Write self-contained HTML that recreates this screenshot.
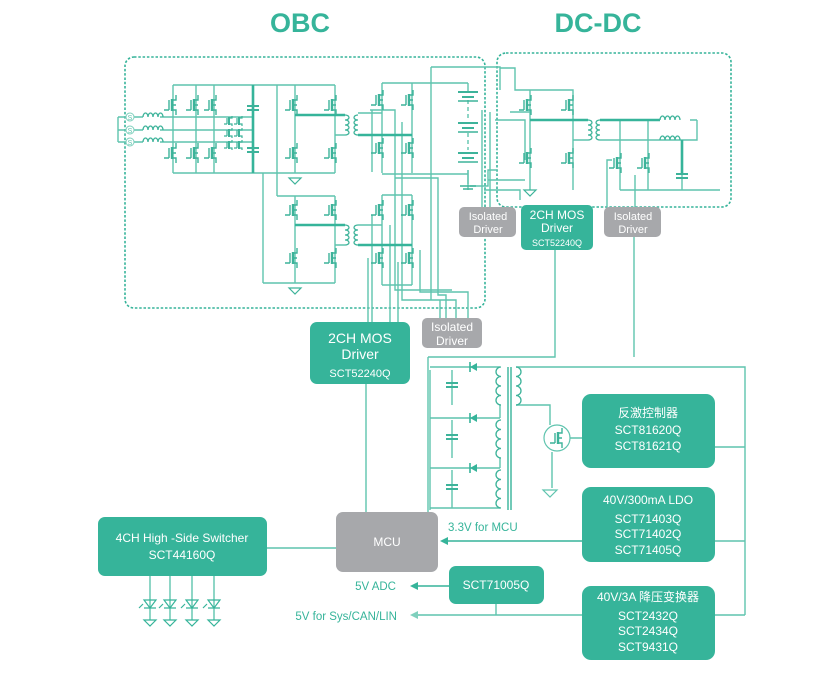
<!DOCTYPE html>
<html><head><meta charset="utf-8"><style>
html,body{margin:0;padding:0;background:#fff;}
svg{display:block;font-family:"Liberation Sans","Noto Sans CJK SC",sans-serif;}
</style></head><body>
<svg width="836" height="673" viewBox="0 0 836 673" xmlns="http://www.w3.org/2000/svg">
<defs>
<g id="m" fill="none" stroke="#3db39a" stroke-width="1.4">
<path d="M0,-10V-5H-4M0,10V5H-4M0,0H-4M-7,-5V5M-12,5H-7"/>
<path d="M-4,-6V6" stroke-width="2.4"/>
</g>
<g id="ms" fill="none" stroke="#3db39a" stroke-width="1.2">
<path d="M0,-5V-3H-3M0,5V3H-3M-5,-3V3M-8,3H-5"/>
<path d="M-3,-4V4" stroke-width="2"/>
</g>
<g id="gnd" fill="none" stroke="#3db39a" stroke-width="1.2"><path d="M-6,0H6L0,6Z"/></g>
<g id="cap" stroke="#3db39a" stroke-width="2"><path d="M-6,-2H6M-6,2H6"/></g>
<g id="bat" stroke="#3db39a" stroke-width="2"><path d="M-10,-3H10M-6,2H6" /><path d="M-10,6H10" stroke-width="1.6"/></g>
<g id="coilv" fill="none" stroke="#3db39a" stroke-width="1.3"><path d="M0,0a4,2.5 0 0 1 0,5a4,2.5 0 0 1 0,5a4,2.5 0 0 1 0,5a4,2.5 0 0 1 0,5"/></g>
<g id="coilv2" fill="none" stroke="#3db39a" stroke-width="1.3"><path d="M0,0a5,4.75 0 0 1 0,9.5a5,4.75 0 0 1 0,9.5a5,4.75 0 0 1 0,9.5a5,4.75 0 0 1 0,9.5"/></g>
<g id="coilh" fill="none" stroke="#3db39a" stroke-width="1.3"><path d="M0,0a2.5,4 0 0 1 5,0a2.5,4 0 0 1 5,0a2.5,4 0 0 1 5,0a2.5,4 0 0 1 5,0"/></g>
</defs>

<text x="300" y="32" text-anchor="middle" font-size="27" font-weight="bold" fill="#36b49a">OBC</text>
<text x="598" y="32" text-anchor="middle" font-size="27" font-weight="bold" fill="#36b49a">DC-DC</text>

<rect x="125" y="57" width="360" height="251" rx="9" fill="none" stroke="#36b49a" stroke-width="1.6" stroke-dasharray="2.5,1.8"/>
<rect x="497" y="53" width="234" height="154" rx="9" fill="none" stroke="#36b49a" stroke-width="1.6" stroke-dasharray="2.5,1.8"/>

<g fill="none" stroke="#5fc4ae" stroke-width="1.4">
<path d="M173,85H335M173,173H335M173,85V173M196,85V173M214,85V173"/>
<path d="M160,117H253M160,130H253M160,142H253"/>
<path d="M118,117V142M118,117H126M118,130H126M118,142H126M134,117H143M134,130H143M134,142H143"/>
<path d="M295,85V173M335,85V173M277,85V196M263,173V283"/>
<path d="M277,196H335M263,283H335M295,196V283M335,196V283"/>
<path d="M335,135H345M335,245H345"/>
<path d="M382,83H468M382,83V173M412,83V173M358,113H382M382,174H468M468,83V92M468,170V184"/>
<path d="M468,100V120M468,133V150" stroke-dasharray="4,3"/>
<path d="M382,195H412M382,195V285M412,195V285M358,225H382M382,285H412"/>
<path d="M431,67H500V90M431,67V300H440V318M372,110V172M370,110H395V178H438V295H446V318M402,122V300H456V318M395,145V290H452M420,250V292H468V318"/>
<path d="M372,215V330M368,258V322M390,225V322M398,262V322"/>
<path d="M470,186H488V170H497M482,110V207M490,112V207"/>
<path d="M468,190V170"/>
<path d="M500,68H515V90H573V190M530,90V190M573,140H588M510,112H530M495,120H525V160M488,180H525M484,190H520V200"/>
<path d="M600,140H697V120M697,120H690M697,140H690M620,120V190M648,120V190M620,190H720M682,140V190M607,207V160H612M635,207V175"/>
<path d="M555,250V357H428M634,237V357M428,357V512M366,384V512"/>
<path d="M516,367H745V615M516,405H550V425M552,452V488M570,438H582M715,447H745M715,541H745M715,615H745"/>
<path d="M430,370V510M430,367H500M430,418H500M430,468H500M452,370V405M452,420V458M452,470V508M500,405V418M500,458V468M500,508H430"/>
<path d="M267,548H336M496,604V615M582,615H418M150,576V620M170,576V620M192,576V620M214,576V620"/>
</g>
<g stroke="#36b49a" stroke-width="1.6">
<path d="M582,541H446M449,586H418"/>
<path d="M508,367V510M511,367V510" stroke-width="1.4"/>
</g>
<g fill="#36b49a"><path d="M440,541l8,-4v8z"/><path d="M410,586l8,-4v8z"/><path d="M410,615l8,-4v8z" fill="#7fd0bd"/>
<path d="M470,367l7,-4v8z"/><path d="M470,418l7,-4v8z"/><path d="M470,468l7,-4v8z"/></g>
<path d="M470,362v10M470,413v10M470,463v10" stroke="#36b49a" stroke-width="1.6"/>

<g stroke="#36b49a" stroke-width="2.6" fill="none">
<path d="M253,85V173M295,115H345M295,225H345M358,135H412M358,245H412M530,120H588M600,120H660M682,140V175"/>
</g>

<g>
<use href="#m" x="176" y="105"/><use href="#m" x="198" y="105"/><use href="#m" x="216" y="105"/>
<use href="#m" x="176" y="153"/><use href="#m" x="198" y="153"/><use href="#m" x="216" y="153"/>
<use href="#ms" x="232" y="121"/><use href="#ms" x="242" y="121"/><use href="#ms" x="232" y="133"/><use href="#ms" x="242" y="133"/><use href="#ms" x="232" y="145"/><use href="#ms" x="242" y="145"/>
<use href="#cap" x="253" y="108"/><use href="#cap" x="253" y="150"/>
<use href="#m" x="297" y="105"/><use href="#m" x="336" y="105"/><use href="#m" x="297" y="153"/><use href="#m" x="336" y="153"/>
<use href="#m" x="297" y="210"/><use href="#m" x="336" y="210"/><use href="#m" x="297" y="258"/><use href="#m" x="336" y="258"/>
<use href="#gnd" x="295" y="178"/><use href="#gnd" x="295" y="288"/>
<use href="#coilv" x="345" y="115"/><use href="#coilv" x="358" y="115" transform="translate(716,0) scale(-1,1)"/>
<use href="#coilv" x="345" y="225"/><use href="#coilv" x="358" y="225" transform="translate(716,0) scale(-1,1)"/>
<use href="#m" x="383" y="100"/><use href="#m" x="413" y="100"/><use href="#m" x="383" y="148"/><use href="#m" x="413" y="148"/>
<use href="#m" x="383" y="210"/><use href="#m" x="413" y="210"/><use href="#m" x="383" y="258"/><use href="#m" x="413" y="258"/>
<use href="#bat" x="468" y="95"/><use href="#bat" x="468" y="126"/><use href="#bat" x="468" y="156"/>
<g stroke="#3db39a" stroke-width="1.6"><path d="M460,186H476M463,189H473"/></g>
<use href="#coilh" x="143" y="117"/><use href="#coilh" x="143" y="130"/><use href="#coilh" x="143" y="142"/>
<g fill="#fff" stroke="#7fd0bd" stroke-width="1"><circle cx="130" cy="117" r="4"/><circle cx="130" cy="130" r="4"/><circle cx="130" cy="142" r="4"/></g>
<g font-size="7" fill="#5fc4ae" text-anchor="middle"><text x="130" y="120">S</text><text x="130" y="133">S</text><text x="130" y="145">S</text></g>
<use href="#m" x="531" y="105"/><use href="#m" x="573" y="105"/><use href="#m" x="531" y="158"/><use href="#m" x="573" y="158"/>
<use href="#gnd" x="530" y="190"/>
<use href="#coilv" x="588" y="120"/><use href="#coilv" x="600" y="120" transform="translate(1200,0) scale(-1,1)"/>
<use href="#coilh" x="660" y="120"/><use href="#coilh" x="660" y="140"/>
<use href="#m" x="621" y="163"/><use href="#m" x="649" y="163"/>
<use href="#cap" x="682" y="176"/>
<use href="#coilv2" x="501" y="367" transform="translate(1002,0) scale(-1,1)"/>
<use href="#coilv2" x="501" y="420" transform="translate(1002,0) scale(-1,1)"/>
<use href="#coilv2" x="501" y="470" transform="translate(1002,0) scale(-1,1)"/>
<use href="#coilv2" x="516" y="367"/>
<use href="#cap" x="452" y="385"/><use href="#cap" x="452" y="437"/><use href="#cap" x="452" y="487"/>
<circle cx="557" cy="438" r="13" fill="none" stroke="#5fc4ae" stroke-width="1.2"/>
<use href="#m" x="562" y="438"/>
<g fill="none" stroke="#5fc4ae" stroke-width="1.2"><path d="M543,490H557L550,497Z"/></g>
<g fill="none" stroke="#36b49a" stroke-width="1.2">
<path d="M144,600H156L150,608ZM144,608H156M164,600H176L170,608ZM164,608H176M186,600H198L192,608ZM186,608H198M208,600H220L214,608ZM208,608H220"/>
<path d="M144,620H156L150,626ZM164,620H176L170,626ZM186,620H198L192,626ZM208,620H220L214,626Z"/>
<path d="M143,604l-4,4M163,604l-4,4M185,604l-4,4M207,604l-4,4"/>
</g>
</g>

<g font-size="11" fill="#fff" text-anchor="middle">
<rect x="459" y="207" width="57" height="30" rx="5" fill="#a7a8ab"/>
<text x="488" y="220">Isolated</text><text x="488" y="233">Driver</text>
<rect x="604" y="207" width="57" height="30" rx="5" fill="#a7a8ab"/>
<text x="633" y="220">Isolated</text><text x="633" y="233">Driver</text>
<rect x="422" y="318" width="60" height="30" rx="5" fill="#a7a8ab"/>
<text x="452" y="331" font-size="12">Isolated</text><text x="452" y="345" font-size="12">Driver</text>
<rect x="521" y="205" width="72" height="45" rx="5" fill="#36b49a"/>
<text x="557" y="219" font-size="12">2CH MOS</text><text x="557" y="232" font-size="12">Driver</text><text x="557" y="246" font-size="9">SCT52240Q</text>
<rect x="310" y="322" width="100" height="62" rx="7" fill="#36b49a"/>
<text x="360" y="343" font-size="14">2CH MOS</text><text x="360" y="359" font-size="14">Driver</text><text x="360" y="377" font-size="11">SCT52240Q</text>
<rect x="336" y="512" width="102" height="60" rx="7" fill="#a7a8ab"/>
<text x="387" y="546" font-size="12">MCU</text>
<rect x="98" y="517" width="169" height="59" rx="7" fill="#36b49a"/>
<text x="182" y="542" font-size="12">4CH High -Side Switcher</text><text x="182" y="559" font-size="12">SCT44160Q</text>
<rect x="582" y="394" width="133" height="74" rx="9" fill="#36b49a"/>
<text x="648" y="417" font-size="12">反激控制器</text><text x="648" y="434" font-size="12">SCT81620Q</text><text x="648" y="450" font-size="12">SCT81621Q</text>
<rect x="582" y="487" width="133" height="75" rx="9" fill="#36b49a"/>
<text x="648" y="504" font-size="12">40V/300mA LDO</text><text x="648" y="523" font-size="12">SCT71403Q</text><text x="648" y="538" font-size="12">SCT71402Q</text><text x="648" y="554" font-size="12">SCT71405Q</text>
<rect x="449" y="566" width="95" height="38" rx="7" fill="#36b49a"/>
<text x="496" y="589" font-size="12">SCT71005Q</text>
<rect x="582" y="586" width="133" height="74" rx="9" fill="#36b49a"/>
<text x="648" y="601" font-size="12">40V/3A 降压变换器</text><text x="648" y="620" font-size="12">SCT2432Q</text><text x="648" y="635" font-size="12">SCT2434Q</text><text x="648" y="651" font-size="12">SCT9431Q</text>
</g>
<g font-size="11.5" fill="#36b49a">
<text x="448" y="531">3.3V for MCU</text>
<text x="396" y="590" text-anchor="end">5V ADC</text>
<text x="397" y="620" text-anchor="end">5V for Sys/CAN/LIN</text>
</g>
</svg>
</body></html>
